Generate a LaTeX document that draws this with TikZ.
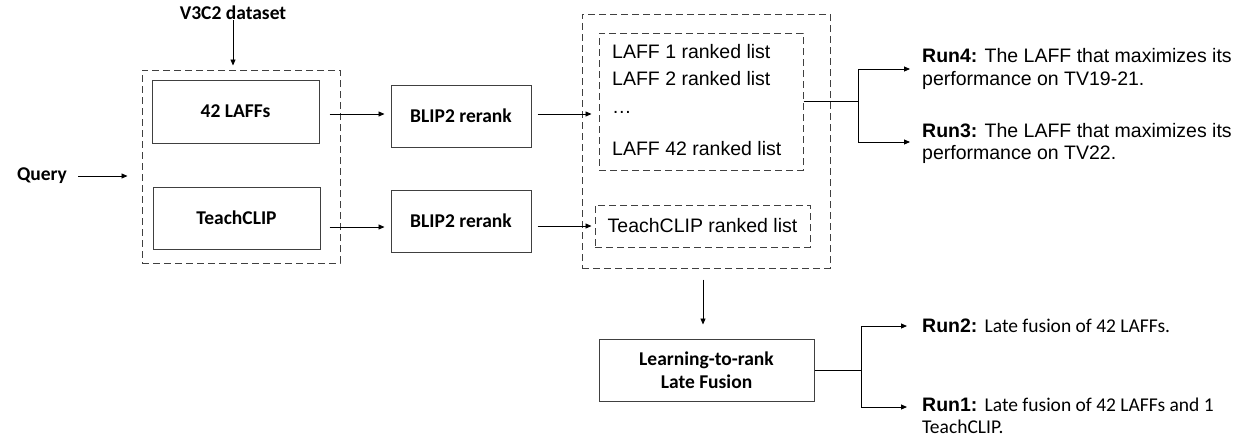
\documentclass[tikz,border=0pt]{standalone}
\usepackage{fontspec}
\setmainfont{Liberation Sans}
\newfontfamily\calfont{Carlito}
\usetikzlibrary{arrows.meta,calc}
\definecolor{edge}{HTML}{404040}
\tikzset{
 solidbox/.style={draw=edge, line width=1pt, inner sep=0pt, align=center,
   font=\calfont\bfseries\fontsize{19.5}{22.5}\selectfont},
 dashbox/.style={draw=edge, line width=1pt, dash pattern=on 7pt off 4pt, inner sep=0pt},
 arr/.style={draw=black, line width=0.9pt, -{Triangle[length=6pt,width=5pt]}},
 ln/.style={draw=black, line width=0.9pt},
 lbl/.style={inner sep=0pt, font=\calfont\bfseries\fontsize{19.5}{22.5}\selectfont},
 listtxt/.style={inner sep=0pt, anchor=base west, font=\fontsize{19.5}{22.5}\selectfont},
 runtxt/.style={inner sep=0pt, anchor=west, align=left, font=\fontsize{19.5}{22.5}\selectfont},
}
\begin{document}
\begin{tikzpicture}[x=1pt,y=-1pt]
\useasboundingbox[fill=white] (0,0) rectangle (1239,439);

% left part
\node[lbl] (v3c2) at (233,13) {V3C2 dataset};
\node[lbl] (query) at (42,176) {Query};
\node[dashbox, minimum width=198pt, minimum height=193pt] (outerL) at (241,166.5) {};
\node[solidbox, minimum width=167pt, minimum height=63pt] (laff) at (235.5,111.5) {42 LAFFs};
\node[solidbox, minimum width=167pt, minimum height=62pt] (teach) at (236.5,218) {TeachCLIP};

% rerank boxes
\node[solidbox, minimum width=140pt, minimum height=62pt] (blip1) at (461,116) {BLIP2 rerank};
\node[solidbox, minimum width=140pt, minimum height=62pt] (blip2) at (461,221) {BLIP2 rerank};

% ranked lists
\node[dashbox, minimum width=248pt, minimum height=254pt] (outerR) at (706,141) {};
\node[dashbox, minimum width=204pt, minimum height=137pt] (laffl) at (701,101.5) {};
\node[listtxt] (l1) at (612,58) {LAFF 1 ranked list};
\node[listtxt] (l2) at (612,85) {LAFF 2 ranked list};
\node[listtxt] (ld) at (612,113) {…};
\node[listtxt] (l42) at (612,155) {LAFF 42 ranked list};
\node[dashbox, minimum width=215pt, minimum height=42pt,
      font=\fontsize{19.5}{22.5}\selectfont] (teachl) at (702.5,226) {TeachCLIP ranked list};

% fusion
\node[solidbox, minimum width=215pt, minimum height=62pt] (l2r) at (706.5,370) {Learning-to-rank\\Late Fusion};

% run texts
\node[runtxt] (run4) at (922,69) {\textbf{Run4:} The LAFF that maximizes its\\performance on TV19-21.};
\node[runtxt] (run3) at (922,143.5) {\textbf{Run3:} The LAFF that maximizes its\\performance on TV22.};
\node[runtxt] (run2) at (922,326) {\textbf{Run2:} {\calfont Late fusion of 42 LAFFs.}};
\node[runtxt] (run1) at (922,416) {\textbf{Run1:} {\calfont Late fusion of 42 LAFFs and 1}\\{\calfont TeachCLIP.}};

% connectors
\draw[arr] (v3c2.south) -- ([yshift=4pt]v3c2.south |- outerL.north);
\draw[arr] ([xshift=11pt]query.east) -- ([xshift=-14pt]query.east -| outerL.west);
\draw[arr] ([xshift=10pt,yshift=-2.5pt]laff.east) coordinate (a0) -- ([xshift=-6pt]a0 -| blip1.west);
\draw[arr] ([xshift=9pt,yshift=-9pt]teach.east) coordinate (a1) -- ([xshift=-6pt]a1 -| blip2.west);
\draw[arr] ([xshift=6pt,yshift=2pt]blip1.east) coordinate (b0) -- ([xshift=-7pt]b0 -| laffl.west);
\draw[arr] ([xshift=6pt,yshift=-5pt]blip2.east) coordinate (b1) -- ([xshift=-3pt]b1 -| teachl.west);
\draw[arr] ([xshift=-3pt,yshift=-11pt]outerR.south) coordinate (d0) -- ([yshift=14pt]d0 |- l2r.north);

\coordinate (j1) at (858,101.5);
\draw[ln] (laffl.east) -- (j1);
\draw[arr] (j1) |- ([xshift=-12pt]run4.west);
\draw[arr] (j1) |- ([xshift=-12pt,yshift=1.5pt]run3.west);

\coordinate (j2) at (861,370);
\draw[ln] (l2r.east) -- (j2);
\draw[arr] (j2) |- ([xshift=-15pt]run2.west);
\coordinate (e1) at (907,407);
\draw[arr] (j2) |- (e1);
\end{tikzpicture}
\end{document}
